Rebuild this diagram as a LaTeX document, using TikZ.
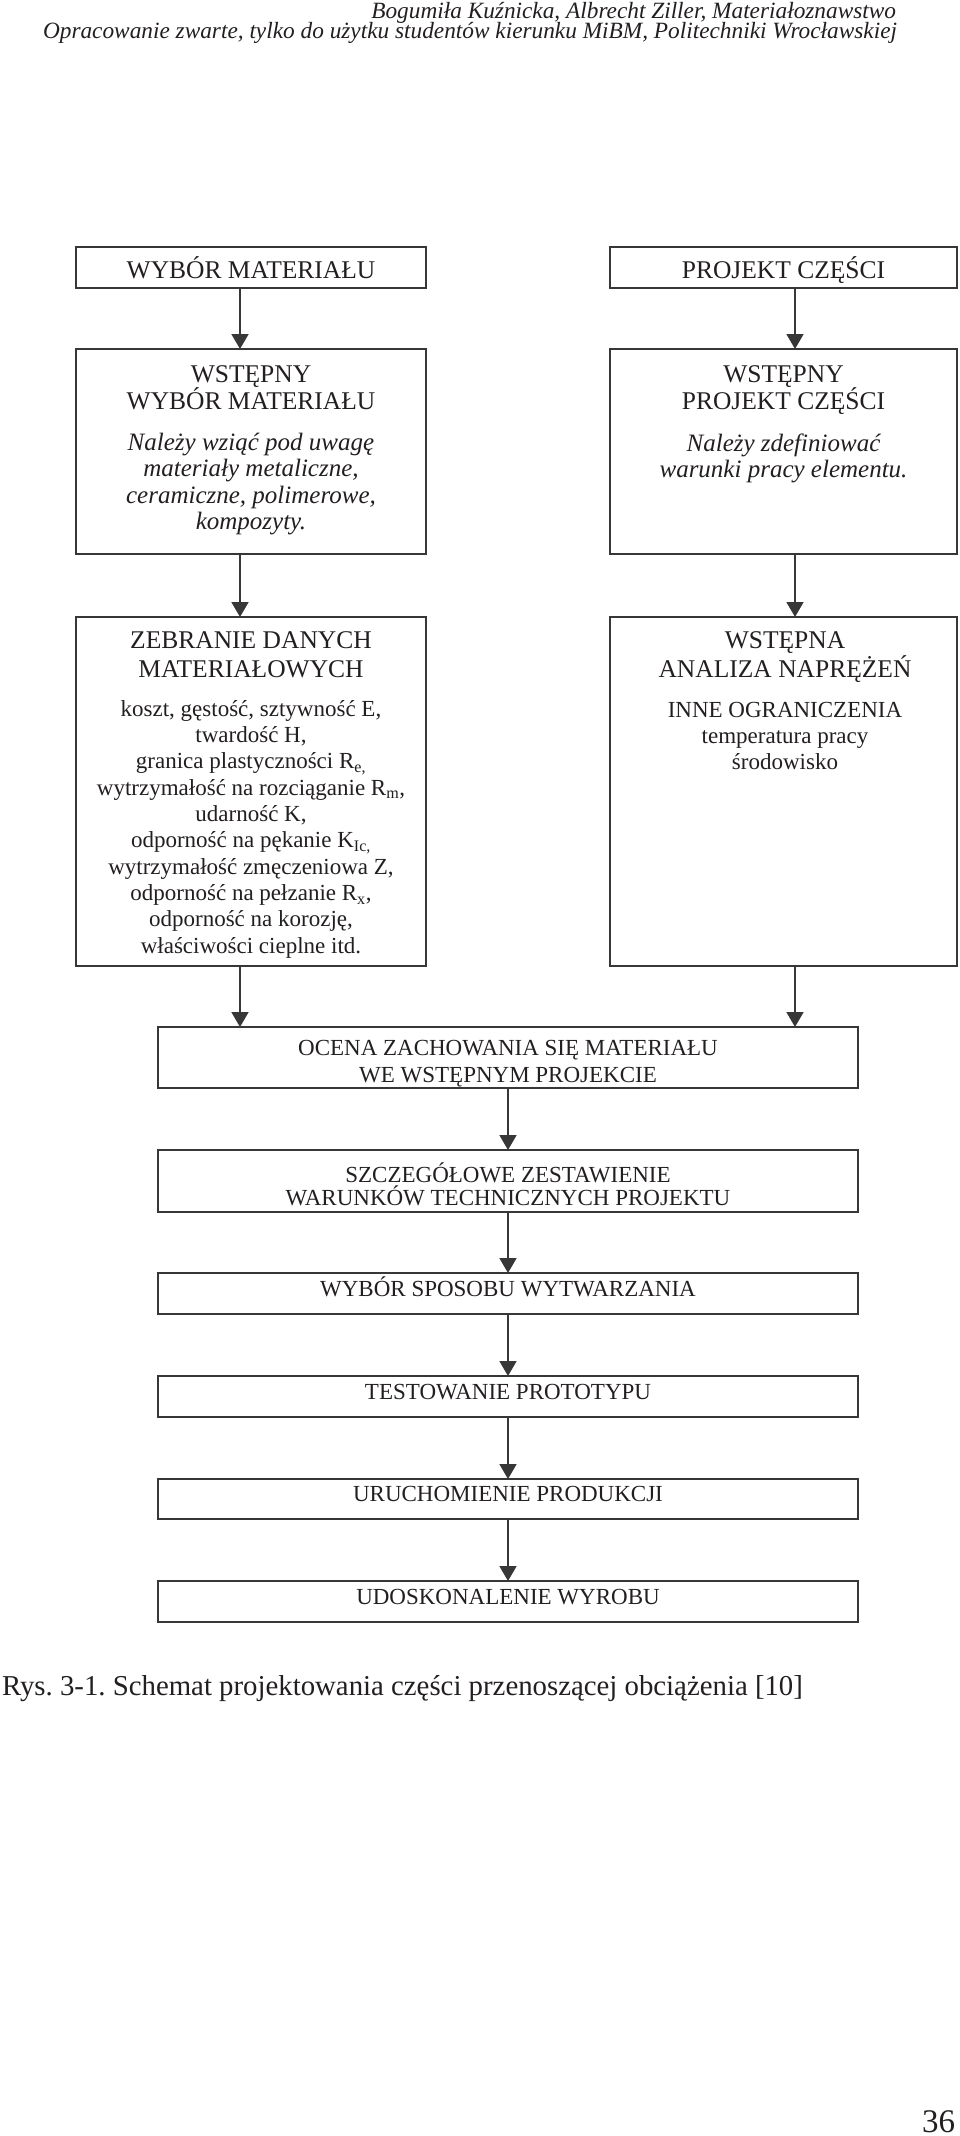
\documentclass[tikz,border=0pt]{standalone}
\usepackage{fontspec}
\setmainfont{Liberation Serif}
\usetikzlibrary{arrows.meta,calc}
\definecolor{ink}{RGB}{35,31,32}
\definecolor{linec}{RGB}{55,55,55}
\newcommand\fH{\fontsize{23.3}{19}\selectfont\itshape}
\newcommand\fT{\fontsize{25.5}{27}\selectfont}
\newcommand\fTw{\fontsize{25.5}{29.5}\selectfont}
\newcommand\fB{\fontsize{23}{26.3}\selectfont}
\newcommand\fI{\fontsize{25}{26.3}\selectfont\itshape}
\newcommand\fS{\fontsize{23}{27}\selectfont}
\newcommand\fSe{\fontsize{23}{23.7}\selectfont}
\newcommand\fC{\fontsize{28.8}{31}\selectfont}
\begin{document}
\frenchspacing
\begin{tikzpicture}[x=1pt,y=-1pt,
  box/.style={draw=linec, line width=2.2pt, inner sep=0pt, outer sep=0pt, rectangle},
  arr/.style={draw=linec, line width=1.8pt, -{Triangle[width=17pt,length=15pt]}},
  txt/.style={text=ink, inner sep=0pt, outer sep=0pt, align=center, anchor=base},
]
\useasboundingbox (0,0) rectangle (960,2136);
\fill[white] (0,0) rectangle (960,2136);
% header
\node[txt, anchor=base east, font=\fH] (h1) at (896,18) {Bogumiła Kuźnicka, Albrecht Ziller, Materiałoznawstwo};
\node[txt, anchor=base east, font=\fH] (h2) at (897,38.5) {Opracowanie zwarte, tylko do użytku studentów kierunku MiBM, Politechniki Wrocławskiej};
% boxes left column
\node[box, minimum width=350pt, minimum height=41pt] (A) at (251,267.5) {};
\node[box, minimum width=350pt, minimum height=205pt] (B) at (251,451.5) {};
\node[box, minimum width=350pt, minimum height=349pt] (C) at (251,791.5) {};
% boxes right column
\node[box, minimum width=347pt, minimum height=41pt] (A2) at (783.5,267.5) {};
\node[box, minimum width=347pt, minimum height=205pt] (B2) at (783.5,451.5) {};
\node[box, minimum width=347pt, minimum height=349pt] (C2) at (783.5,791.5) {};
% boxes lower chain
\node[box, minimum width=700pt, minimum height=61pt] (D) at (508,1057.5) {};
\node[box, minimum width=700pt, minimum height=62pt] (E) at (508,1181) {};
\node[box, minimum width=700pt, minimum height=41pt] (F) at (508,1293.5) {};
\node[box, minimum width=700pt, minimum height=41pt] (G) at (508,1396.5) {};
\node[box, minimum width=700pt, minimum height=40pt] (H) at (508,1499) {};
\node[box, minimum width=700pt, minimum height=41pt] (I) at (508,1601.5) {};
% texts (base anchor = baseline of the last line)
\node[txt, font=\fT] (At) at (251,278) {WYBÓR MATERIAŁU};
\node[txt, font=\fT] (A2t) at (783.5,278) {PROJEKT CZĘŚCI};
\node[txt, font=\fT] (Bt) at (251,409) {WSTĘPNY\\WYBÓR MATERIAŁU};
\node[txt, font=\fI] (Bi) at (251,529.4) {Należy wziąć pod uwagę\\materiały metaliczne,\\ceramiczne, polimerowe,\\kompozyty.};
\node[txt, font=\fT] (B2t) at (783.5,409) {WSTĘPNY\\PROJEKT CZĘŚCI};
\node[txt, font=\fI] (B2i) at (783.5,477.3) {Należy zdefiniować\\warunki pracy elementu.};
\node[txt, font=\fTw] (Ct) at (251,677.5) {ZEBRANIE DANYCH\\MATERIAŁOWYCH};
\node[txt, font=\fB] (Cb) at (251,953) {koszt, gęstość, sztywność E,\\twardość H,\\granica plastyczności R\textsubscript{e,}\\wytrzymałość na rozciąganie R\textsubscript{m},\\udarność K,\\odporność na pękanie K\textsubscript{Ic,}\\wytrzymałość zmęczeniowa Z,\\odporność na pełzanie R\textsubscript{x},\\odporność na korozję,\\właściwości cieplne itd.};
\node[txt, font=\fTw] (C2t) at (785,677.5) {WSTĘPNA\\ANALIZA NAPRĘŻEŃ};
\node[txt, font=\fontsize{23}{26}\selectfont] (C2a) at (785,717) {INNE OGRANICZENIA};
\node[txt, font=\fB] (C2b) at (785,769.3) {temperatura pracy\\środowisko};
\node[txt, font=\fS] (Dt) at (508,1082.5) {OCENA ZACHOWANIA SIĘ MATERIAŁU\\WE WSTĘPNYM PROJEKCIE};
\node[txt, font=\fSe] (Et) at (508,1205.7) {SZCZEGÓŁOWE ZESTAWIENIE\\WARUNKÓW TECHNICZNYCH PROJEKTU};
\node[txt, font=\fS] (Ft) at (508,1296.7) {WYBÓR SPOSOBU WYTWARZANIA};
\node[txt, font=\fS] (Gt) at (508,1399.3) {TESTOWANIE PROTOTYPU};
\node[txt, font=\fS] (Ht) at (508,1501.7) {URUCHOMIENIE PRODUKCJI};
\node[txt, font=\fS] (It) at (508,1604) {UDOSKONALENIE WYROBU};
% caption and page number
\node[txt, anchor=base west, font=\fC] (cap) at (2,1695) {Rys. 3-1. Schemat projektowania części przenoszącej obciążenia [10]};
\node[txt, anchor=base east, font=\fontsize{33}{35}\selectfont] (pg) at (955,2132) {36};
% arrows
\coordinate (xl) at (240,0);
\coordinate (xr) at (795,0);
\draw[arr] (A.south -| xl) -- (B.north -| xl);
\draw[arr] (B.south -| xl) -- (C.north -| xl);
\draw[arr] (C.south -| xl) -- (D.north -| xl);
\draw[arr] (A2.south -| xr) -- (B2.north -| xr);
\draw[arr] (B2.south -| xr) -- (C2.north -| xr);
\draw[arr] (C2.south -| xr) -- (D.north -| xr);
\draw[arr] (D.south) -- (E.north);
\draw[arr] (E.south) -- (F.north);
\draw[arr] (F.south) -- (G.north);
\draw[arr] (G.south) -- (H.north);
\draw[arr] (H.south) -- (I.north);
\end{tikzpicture}
\end{document}
